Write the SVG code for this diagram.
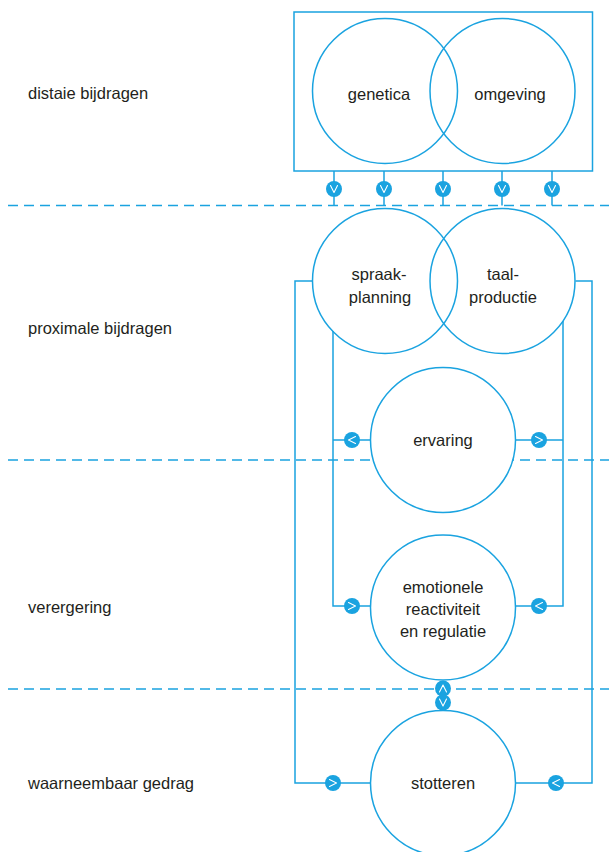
<svg xmlns="http://www.w3.org/2000/svg" xmlns:xlink="http://www.w3.org/1999/xlink" width="609" height="852" viewBox="0 0 609 852">
<style>
.ln{fill:none;stroke:#1aa3e0;stroke-width:1.5}
.dash{fill:none;stroke:#1aa3e0;stroke-width:1.5;stroke-dasharray:10 6}
.node{fill:#fff;stroke:#1aa3e0;stroke-width:1.5}
.ven{fill:none;stroke:#1aa3e0;stroke-width:1.5}
.t{font-family:"Liberation Sans",Arial,sans-serif;font-size:16.5px;fill:#231f20}
.c{text-anchor:middle}
.bd{fill:#1aa3e0}
.ch{fill:none;stroke:#fff;stroke-width:1.1;stroke-linecap:round;stroke-linejoin:round}
</style>
<defs>
<g id="bdown"><circle class="bd" r="8"/><polyline class="ch" points="-3.5,-3.5 0,3.5 3.5,-3.5"/></g>
<g id="bup"><circle class="bd" r="8"/><polyline class="ch" points="-3.5,3.5 0,-3.5 3.5,3.5"/></g>
<g id="bleft"><circle class="bd" r="8"/><polyline class="ch" points="3.5,-3.5 -3.5,0 3.5,3.5"/></g>
<g id="bright"><circle class="bd" r="8"/><polyline class="ch" points="-3.5,-3.5 3.5,0 -3.5,3.5"/></g>
</defs>
<rect width="609" height="852" fill="#fff"/>
<g id="levels">
<line class="dash" x1="8" y1="205.5" x2="609" y2="205.5"/>
<line class="dash" x1="8" y1="460" x2="609" y2="460"/>
<line class="dash" x1="8" y1="689" x2="609" y2="689"/>
<text class="t" x="28" y="99">distaie bijdragen</text>
<text class="t" x="28" y="334">proximale bijdragen</text>
<text class="t" x="28" y="613">verergering</text>
<text class="t" x="28" y="789">waarneembaar gedrag</text>
</g>
<g id="connectors">
<path class="ln" d="M334,171V205.5M384,171V205.5M443,171V205.5M502,171V205.5M552,171V205.5"/>
<path class="ln" d="M312.5,281H295V783H371"/>
<path class="ln" d="M575.5,281H592V783H515"/>
<path class="ln" d="M333,331V606H371M333,440H371"/>
<path class="ln" d="M563,321V606H515M563,440H515"/>
<use xlink:href="#bdown" x="334" y="189"/>
<use xlink:href="#bdown" x="384" y="189"/>
<use xlink:href="#bdown" x="443" y="189"/>
<use xlink:href="#bdown" x="502" y="189"/>
<use xlink:href="#bdown" x="552" y="189"/>
<use xlink:href="#bleft" x="352" y="440"/>
<use xlink:href="#bright" x="539" y="440"/>
<use xlink:href="#bright" x="352" y="606"/>
<use xlink:href="#bleft" x="539" y="606"/>
<use xlink:href="#bright" x="333" y="783"/>
<use xlink:href="#bleft" x="556" y="783"/>
</g>
<g id="distal">
<rect class="ven" x="294" y="12" width="298.5" height="159"/>
</g>
<g id="genetica">
<circle class="ven" cx="385" cy="91" r="72.5"/>
<text class="t c" x="379" y="100">genetica</text>
</g>
<g id="omgeving">
<circle class="ven" cx="502.5" cy="91" r="72.5"/>
<text class="t c" x="510" y="100">omgeving</text>
</g>
<g id="spraakplanning">
<circle class="ven" cx="385" cy="281" r="72.5"/>
<text class="t c" x="379" y="280">spraak-</text>
<text class="t c" x="380" y="303">planning</text>
</g>
<g id="taalproductie">
<circle class="ven" cx="502.5" cy="281" r="72.5"/>
<text class="t c" x="503" y="280">taal-</text>
<text class="t c" x="503" y="303">productie</text>
</g>
<g id="ervaring">
<circle class="node" cx="443" cy="440" r="72.5"/>
<text class="t c" x="443" y="446">ervaring</text>
</g>
<g id="emotionele">
<circle class="node" cx="443" cy="607.5" r="72.5"/>
<text class="t c" x="443" y="593">emotionele</text>
<text class="t c" x="443" y="615">reactiviteit</text>
<text class="t c" x="443" y="637">en regulatie</text>
</g>
<g id="stotteren">
<circle class="node" cx="443" cy="783" r="72.5"/>
<text class="t c" x="443" y="789">stotteren</text>
</g>
<g id="emo-stot">
<use xlink:href="#bup" x="443" y="688.5"/>
<use xlink:href="#bdown" x="443" y="702.5"/>
</g>
</svg>
